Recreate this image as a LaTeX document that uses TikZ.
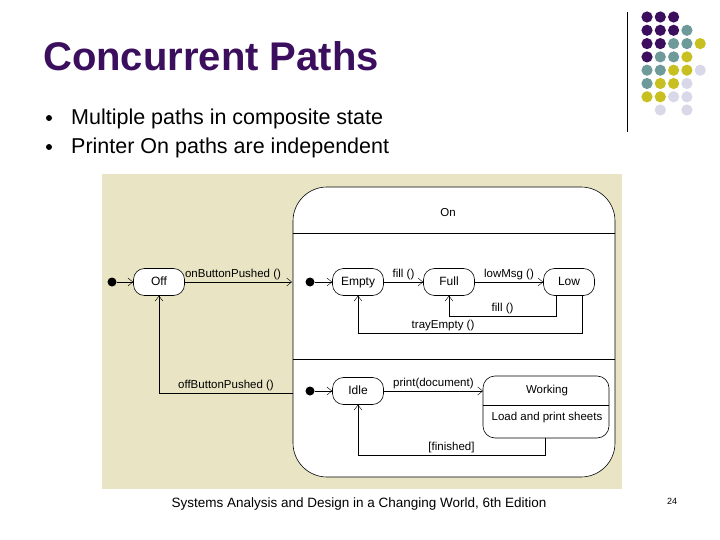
\documentclass[tikz,border=0pt]{standalone}
\usepackage{fontspec}
\setmainfont{Liberation Sans}
\usetikzlibrary{arrows.meta}
\definecolor{pp}{HTML}{3B0F5E}
\definecolor{tt}{HTML}{6F9A9A}
\definecolor{yy}{HTML}{C8C020}
\definecolor{ll}{HTML}{D8D8E8}
\definecolor{bg}{HTML}{E9E5C4}
\begin{document}
\begin{tikzpicture}[x=1pt,y=-1pt,
  st/.style={draw,semithick,rounded corners=11pt,minimum width=51pt,minimum height=27pt,text height=8pt,text depth=2pt,fill=white,font=\fontsize{12}{14}\selectfont,inner sep=0pt},
  lbl/.style={font=\fontsize{11.5}{13}\selectfont,inner sep=1.5pt},
  tr/.style={draw,thin,-{Straight Barb[length=5pt,width=8pt]}},
  ini/.style={circle,fill=black,inner sep=0pt,minimum size=9pt}]
\useasboundingbox (0,0) rectangle (720,540);
\fill[white] (0,0) rectangle (720,540);
% title
\node[anchor=base west,text=pp,font=\fontsize{40}{44}\selectfont\bfseries,inner sep=0pt] (title) at (43,71) {Concurrent Paths};
\node[circle,fill=black,inner sep=0pt,minimum size=6pt] (b1) at (49,118) {};
\node[circle,fill=black,inner sep=0pt,minimum size=6pt] (b2) at (49,147) {};
\node[anchor=base west,font=\fontsize{21.5}{24}\selectfont,inner sep=0pt] (t1) at (71,125) {Multiple paths in composite state};
\node[anchor=base west,font=\fontsize{21.5}{24}\selectfont,inner sep=0pt] (t2) at (71,154) {Printer On paths are independent};
% logo
\draw[thick] (627,12) -- (627,132);
\foreach \r/\cols in {0/{pp,pp,pp},1/{pp,pp,pp,tt},2/{pp,pp,tt,tt,yy},3/{pp,tt,tt,yy},4/{tt,tt,yy,yy,ll},5/{tt,yy,yy,ll},6/{yy,yy,ll,ll}}{
  \foreach \c [count=\i from 0] in \cols {
    \fill[\c] (647+\i*13.3,17+\r*13.3) circle (5.6pt);
  }
}
\fill[ll] (660.3,110) circle (5.6pt);
\fill[ll] (686.9,110) circle (5.6pt);
% diagram
\fill[bg] (102,174) rectangle (622,489);
\draw[semithick,fill=white,rounded corners=34pt] (293,187) rectangle (615,477);
\draw[thick] (293,233) -- (615,233);
\draw[thick] (293,359) -- (615,359);
\node[lbl] (on) at (448,213) {On};
\node[ini] (i0) at (112,282) {};
\node[st] (off) at (159,282) {Off};
\coordinate (onw) at (292,282);
\draw[tr] (i0) -- (off);
\draw[tr] (off) -- node[lbl,above,pos=0.45] {onButtonPushed ()} (onw);
\node[ini] (i1) at (310,282) {};
\node[st] (empty) at (358,282) {Empty};
\node[st] (full) at (449,282) {Full};
\node[st] (low) at (569,282) {Low};
\draw[tr] (i1) -- (empty);
\draw[tr] (empty) -- node[lbl,above] {fill ()} (full);
\draw[tr] (full) -- node[lbl,above] {lowMsg ()} (low);
\draw[tr] (low.south west) ++(13,0) coordinate (lf) (lf) |- (449,316) node[lbl,above,pos=0.75] {fill ()} -- (full.south);
\draw[tr] (low.south east) ++(-13,0) coordinate (le) (le) |- (358,333) node[lbl,above,pos=0.81] {trayEmpty ()} -- (empty.south);
\node[ini] (i2) at (310,391) {};
\node[st] (idle) at (358,391) {Idle};
\draw[tr] (i2) -- (idle);
\draw[semithick,rounded corners=12pt,fill=white] (483,376) rectangle (609,438);
\draw[thick] (483,405) -- (609,405);
\node[lbl] (wk) at (547,391) {Working};
\node[lbl] (lp) at (547,418) {Load and print sheets};
\coordinate (wkw) at (483,391);
\draw[tr] (idle) -- node[lbl,above] {print(document)} (wkw);
\coordinate (wkb) at (545,438);
\draw[tr] (wkb) |- (358,455) node[lbl,above,pos=0.75] {[finished]} -- (idle.south);
\coordinate (onl) at (293,393);
\draw[tr] (onl) -| node[lbl,above,pos=0.25] {offButtonPushed ()} (off.south);
% footer
\node[font=\fontsize{13.5}{15}\selectfont] (foot) at (359,504) {Systems Analysis and Design in a Changing World, 6th Edition};
\node[font=\fontsize{9}{11}\selectfont] (pg) at (672,501) {24};
\end{tikzpicture}
\end{document}
